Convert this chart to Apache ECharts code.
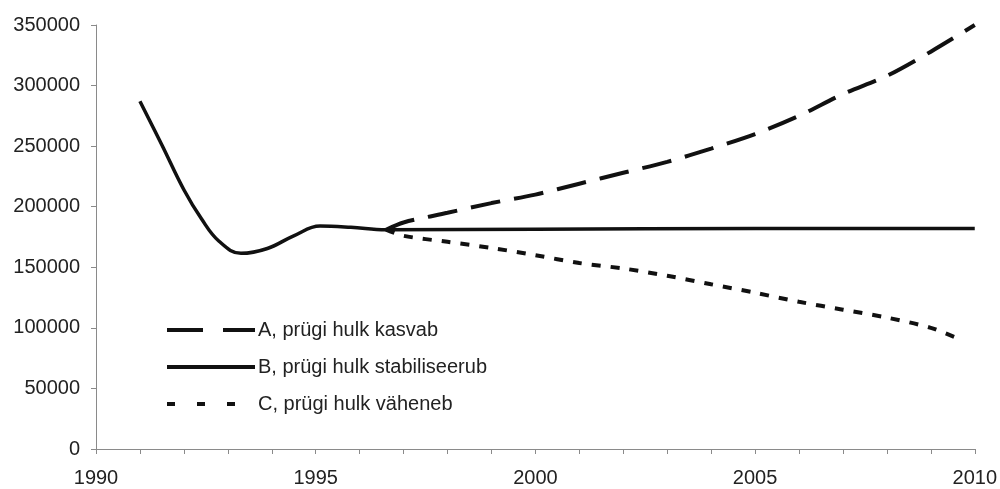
<!DOCTYPE html>
<html>
<head>
<meta charset="utf-8">
<script src="https://cdn.jsdelivr.net/npm/echarts@6/dist/echarts.min.js"></script>
<style>
  html, body { margin: 0; padding: 0; background: #fff; }
  #chart { width: 1000px; height: 489px; }
</style>
</head>
<body>
<div id="chart"></div>
<script>
// series names (legend)
const seriesNames = ['A, prügi hulk kasvab', 'B, prügi hulk stabiliseerub', 'C, prügi hulk väheneb']

// B: observed + stabilised, [year, amount]
const dataB = [
  [1991, 287000], [1991.5, 251000], [1992, 214000], [1992.4, 190000],
  [1992.8, 171500], [1993.3, 161500], [1993.9, 165500], [1994.5, 176000],
  [1995.1, 184000], [1995.8, 183000], [1996.6, 181000],
  [2000, 181500], [2005, 182000], [2010, 182000]
]
// A: growing
const dataA = [
  [1996.6, 181000], [1997, 187000], [1998, 195000], [1999, 203000],
  [2000, 210000], [2001, 219000], [2002, 228000], [2003, 237000],
  [2004, 248000], [2005, 260000], [2006, 275000], [2007, 293000],
  [2008, 308000], [2009, 328000], [2010, 350000]
]
// C: declining
const dataC = [
  [1996.6, 181000], [1997, 176000], [1998, 171000], [1999, 166000],
  [2000, 160000], [2001, 153500], [2002, 149000], [2003, 143000],
  [2004, 136000], [2005, 129000], [2006, 121500], [2007, 115000],
  [2008, 108500], [2009, 100000], [2009.7, 90000]
]

const chart = echarts.init(document.getElementById('chart'))
const font = '"Liberation Sans", Arial, sans-serif'
const ink = '#111'

chart.setOption({
  animation: false,
  backgroundColor: '#fff',
  textStyle: { fontFamily: font },
  grid: { left: 96, right: 25, top: 25, bottom: 40 },
  legend: {
    orient: 'vertical',
    left: 160,
    top: 314,
    itemWidth: 88,
    itemHeight: 14,
    itemGap: 15,
    selectedMode: false,
    itemStyle: { color: 'transparent', borderWidth: 0, opacity: 0 },
    lineStyle: { width: 4, color: ink },
    data: [
      { name: seriesNames[0], lineStyle: { type: [36, 20] } },
      { name: seriesNames[1] },
      { name: seriesNames[2], lineStyle: { type: [8, 22] } }
    ],
    textStyle: { fontSize: 20, color: '#222', fontFamily: font, lineHeight: 22, padding: [0, 0, 0, -2] }
  },
  xAxis: {
    type: 'value',
    min: 1990,
    max: 2010,
    interval: 5,
    axisLine: { lineStyle: { color: '#8a8a8a', width: 1 } },
    axisTick: { show: true, length: 5, lineStyle: { color: '#8a8a8a' } },
    minorTick: { show: true, splitNumber: 5, length: 5, lineStyle: { color: '#8a8a8a' } },
    splitLine: { show: false },
    axisLabel: { fontSize: 20, color: '#222', margin: 19, fontFamily: font, formatter: v => String(v) }
  },
  yAxis: {
    type: 'value',
    min: 0,
    max: 350000,
    interval: 50000,
    axisLine: { show: true, lineStyle: { color: '#8a8a8a', width: 1 } },
    axisTick: { show: true, length: 5, lineStyle: { color: '#8a8a8a' } },
    splitLine: { show: false },
    axisLabel: { fontSize: 20, color: '#222', margin: 16, fontFamily: font, formatter: v => String(v) }
  },
  series: [
    {
      name: seriesNames[0],
      type: 'line',
      data: dataA,
      symbol: 'none',
      smooth: 0.3,
      color: ink,
      lineStyle: { color: ink, width: 4, type: [30, 14] }
    },
    {
      name: seriesNames[1],
      type: 'line',
      data: dataB,
      symbol: 'none',
      smooth: 0.4,
      color: ink,
      lineStyle: { color: ink, width: 3.5 }
    },
    {
      name: seriesNames[2],
      type: 'line',
      data: dataC,
      symbol: 'none',
      smooth: 0.3,
      color: ink,
      lineStyle: { color: ink, width: 4, type: [9, 10] }
    }
  ]
})
</script>
</body>
</html>
